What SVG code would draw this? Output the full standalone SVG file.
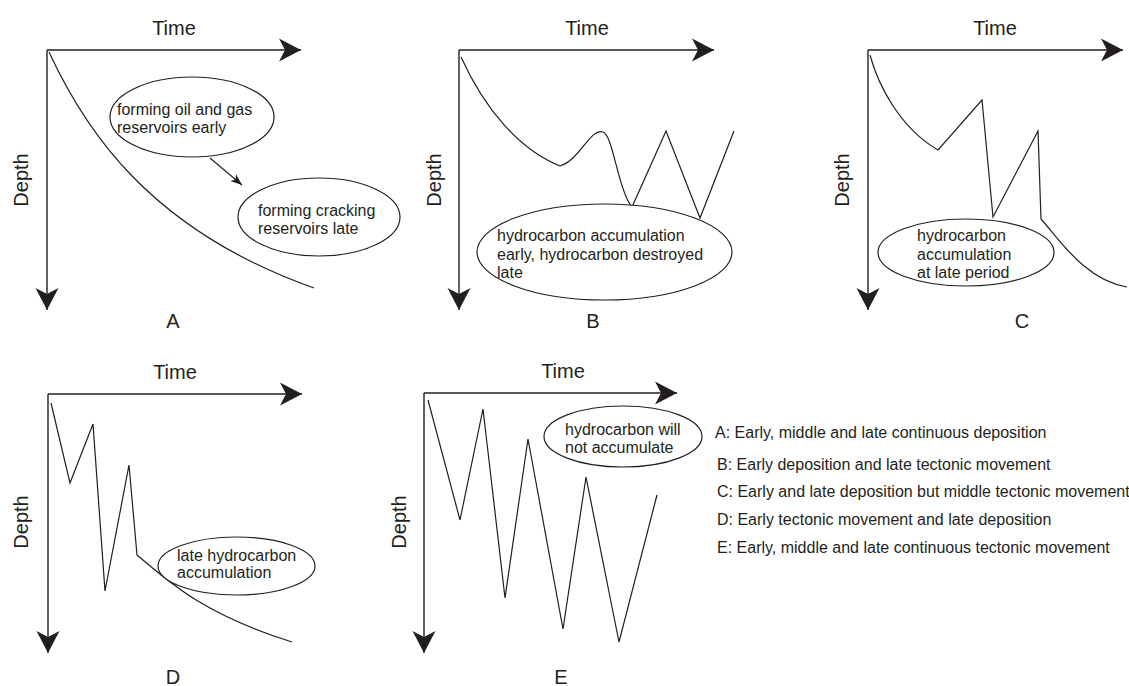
<svg xmlns="http://www.w3.org/2000/svg" width="1129" height="686" viewBox="0 0 1129 686">
<defs>
<style>
.ax{fill:none;stroke:#231f20;stroke-width:1.4;marker-end:url(#big)}
.cv{fill:none;stroke:#231f20;stroke-width:1.2;stroke-linejoin:miter}
.el{fill:#fff;stroke:#231f20;stroke-width:1.2}
.tt{font-family:"Liberation Sans",Arial,sans-serif;font-size:20px;fill:#231f20}
.et{font-family:"Liberation Sans",Arial,sans-serif;font-size:16px;fill:#231f20}
.lg{font-family:"Liberation Sans",Arial,sans-serif;font-size:16px;fill:#231f20}
.mid{text-anchor:middle}
</style>
<marker id="big" viewBox="0 0 24 24" refX="23" refY="12" markerWidth="24" markerHeight="24" markerUnits="userSpaceOnUse" orient="auto">
<path d="M1,0.5 L23,12 L1,23.5 L7,12 Z" fill="#231f20"/>
</marker>
<marker id="small" viewBox="0 0 12 10" refX="11.5" refY="5" markerWidth="12" markerHeight="10" markerUnits="userSpaceOnUse" orient="auto">
<path d="M0,0.5 L11.5,5 L0,9.5 L3,5 Z" fill="#231f20"/>
</marker>
</defs>
<rect width="1129" height="686" fill="#fff"/>

<g id="panelA">
<path class="ax" d="M47,50 H301"/>
<path class="ax" d="M47,50 V310"/>
<text class="tt mid" x="174" y="35">Time</text>
<text class="tt mid" transform="translate(28,180) rotate(-90)">Depth</text>
<path class="cv" d="M49,52 C85,130 150,230 314,288"/>
<text class="tt mid" x="173" y="328">A</text>
</g>
<g id="ellipseA1">
<ellipse class="el" cx="192" cy="117" rx="82" ry="40"/>
<text class="et" x="117" y="115">forming oil and gas</text>
<text class="et" x="117" y="133">reservoirs early</text>
</g>
<g id="ellipseA2">
<ellipse class="el" cx="319" cy="217" rx="81" ry="39"/>
<text class="et" x="258" y="216">forming cracking</text>
<text class="et" x="258" y="234">reservoirs late</text>
</g>

<g id="panelB">
<path class="ax" d="M459,50 H714"/>
<path class="ax" d="M459,50 V310"/>
<text class="tt mid" x="587" y="35">Time</text>
<text class="tt mid" transform="translate(441,180) rotate(-90)">Depth</text>
<path class="cv" d="M461,57 C485,110 520,150 560,166 C580,160 590,128 603,132 C613,135 618,190 632,207 L666,131 L700,218 L734,131"/>
<text class="tt mid" x="593" y="328">B</text>
</g>
<g id="ellipseB">
<ellipse class="el" cx="604.5" cy="252" rx="127.5" ry="48"/>
<text class="et" x="497" y="241">hydrocarbon accumulation</text>
<text class="et" x="497" y="260">early, hydrocarbon destroyed</text>
<text class="et" x="497" y="278">late</text>
</g>

<g id="panelC">
<path class="ax" d="M868,50 H1123"/>
<path class="ax" d="M868,50 V310"/>
<text class="tt mid" x="995" y="35">Time</text>
<text class="tt mid" transform="translate(849,180) rotate(-90)">Depth</text>
<path class="cv" d="M870,55 C878,85 900,128 938,150 L982,100 L993,217 L1038,131 L1041,219 C1060,240 1085,280 1127,287"/>
<text class="tt mid" x="1022" y="328">C</text>
</g>
<g id="ellipseC">
<ellipse class="el" cx="966" cy="252.5" rx="88" ry="33.5"/>
<text class="et" x="917" y="241">hydrocarbon</text>
<text class="et" x="917" y="259.5">accumulation</text>
<text class="et" x="917" y="278">at late period</text>
</g>

<g id="panelD">
<path class="ax" d="M48,394 H302"/>
<path class="ax" d="M48,394 V653"/>
<text class="tt mid" x="175" y="379">Time</text>
<text class="tt mid" transform="translate(28,522) rotate(-90)">Depth</text>
<path class="cv" d="M51,403 L70,483 L93,424 L105,591 L129,465 L137,555 C170,583 205,615 292,642"/>
<text class="tt mid" x="173" y="684">D</text>
</g>
<g id="ellipseD">
<ellipse class="el" cx="236.5" cy="566" rx="78.5" ry="29"/>
<text class="et" x="177" y="561">late hydrocarbon</text>
<text class="et" x="177" y="578">accumulation</text>
</g>

<g id="panelE">
<path class="ax" d="M424,393 H677"/>
<path class="ax" d="M424,393 V653"/>
<text class="tt mid" x="563" y="378">Time</text>
<text class="tt mid" transform="translate(406,522) rotate(-90)">Depth</text>
<path class="cv" d="M428,400 L460,520 L483,409 L505,598 L528,439 L563,629 L586,477 L619,642 L657,495"/>
<text class="tt mid" x="561" y="684">E</text>
</g>
<g id="ellipseE">
<ellipse class="el" cx="623" cy="436.5" rx="79" ry="30.5"/>
<text class="et" x="565" y="435">hydrocarbon will</text>
<text class="et" x="565" y="453">not accumulate</text>
</g>

<g id="connectors">
<path d="M210,158 L242,185" fill="none" stroke="#231f20" stroke-width="1.2" marker-end="url(#small)"/>
</g>

<g id="legend">
<text class="lg" x="715" y="438">A: Early, middle and late continuous deposition</text>
<text class="lg" x="717" y="470">B: Early deposition and late tectonic movement</text>
<text class="lg" x="717" y="497">C: Early and late deposition but middle tectonic movement</text>
<text class="lg" x="717" y="525">D: Early tectonic movement and late deposition</text>
<text class="lg" x="717" y="553">E: Early, middle and late continuous tectonic movement</text>
</g>
</svg>
